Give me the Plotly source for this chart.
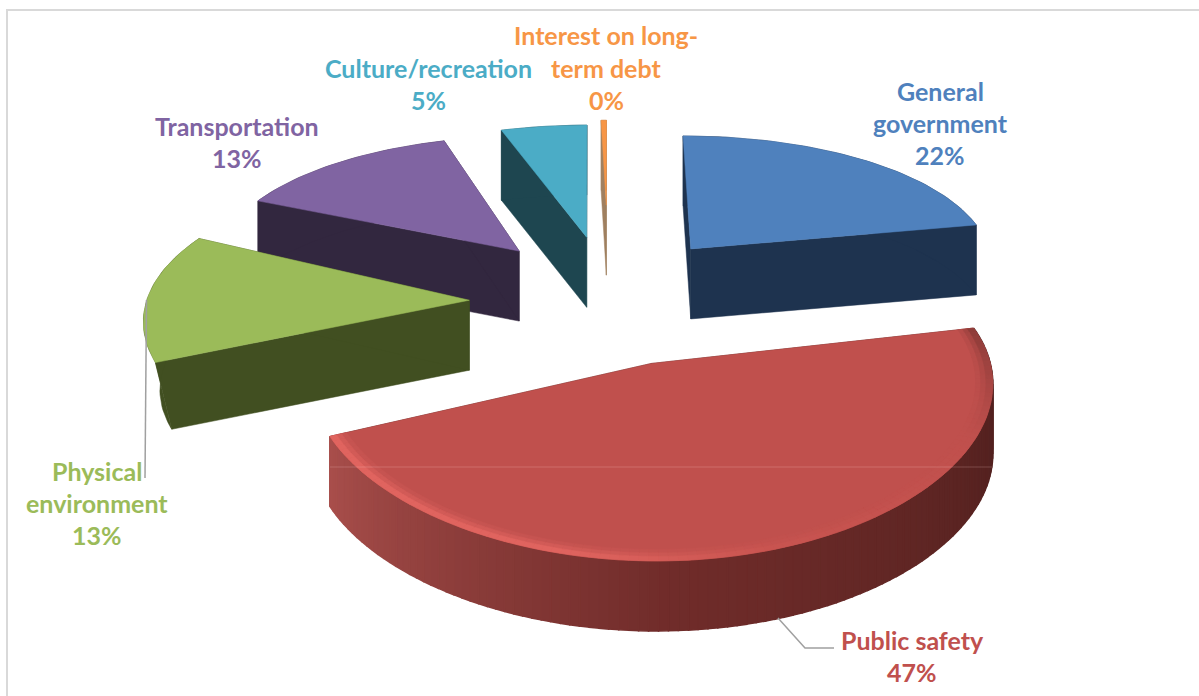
import math
import plotly.graph_objects as go

categories = ["General government", "Public safety", "Physical environment",
              "Transportation", "Culture/recreation", "Interest on long-term debt"]
values = [22, 47, 13, 13, 5, 0.4]
label_lines = [["General", "government"], ["Public safety"], ["Physical", "environment"],
               ["Transportation"], ["Culture/recreation"], ["Interest on long-", "term debt"]]
top_colors = ["#4f81bd", "#c0504d", "#9bbb59", "#8064a2", "#4bacc6", "#f79646"]
wall_colors = ["#1e334f", "#4a1e1c", "#414f21", "#32273f", "#1e4650", "#a08060"]

# geometry of the tilted, exploded pie
explode = [0.46, 0.45, 0.43, 0.42, 0.50, 0.72]
radius = [0.97, 1.02, 1.015, 0.975, 1, 0.78]
start_adjust = [0, -1.5, -1, 0, 1, 0]
end_adjust = [0, -1.5, 2.5, 2, 1, 0]
nudge_x = [-4, 3, 1, 2, 9, 4]
nudge_y = [-2, -3, 1, -6, 4, 0]
taper = [1, 1, 0.95, 1, 1, 1]
paint_order = [5, 4, 3, 0, 2, 1]
CX, CY, BX, AY, KX, KY, DEPTH = 605, 300, 318, 145, 0.10, 0.14, 70
label_pos = [(940, [91, 123], 155), (912, [640], 672), (97, [471, 503], 535),
             (237, [126], 158), (428, [68], 100), (606, [35, 68], 100)]


def project(x, y, z=0, dx=0, dy=0):
    return CX + BX * x / (1 + KX * y) + dx, CY - AY * y / (1 + KY * y) + DEPTH * z + dy


def mix(c1, c2, t):
    t = max(0.0, min(1.0, t))
    a = [int(c1[i:i + 2], 16) for i in (1, 3, 5)]
    b = [int(c2[i:i + 2], 16) for i in (1, 3, 5)]
    return "#%02x%02x%02x" % tuple(round(p + (q - p) * t) for p, q in zip(a, b))


def poly(points, color, width=0.0):
    xs = [p[0] for p in points] + [points[0][0]]
    ys = [p[1] for p in points] + [points[0][1]]
    return go.Scatter(x=xs, y=ys, mode="lines", fill="toself", fillcolor=color,
                      line=dict(color=color, width=width), hoverinfo="skip", showlegend=False)


total = sum(values)
starts, acc = [], 0.0
for v in values:
    starts.append(acc / total * 360)
    acc += v
spans = [v / total * 360 for v in values]

traces = []
for i in paint_order:
    mid = math.radians(starts[i] + spans[i] / 2)
    a0 = starts[i] + start_adjust[i]
    da = spans[i] + end_adjust[i] - start_adjust[i]
    ox, oy = explode[i] * math.sin(mid), explode[i] * math.cos(mid)
    r = radius[i]
    dx, dy = nudge_x[i], nudge_y[i]
    n = max(2, int(da / 1.5))
    angs = [math.radians(a0 + da * k / n) for k in range(n + 1)]
    rim = [(ox + r * math.sin(a), oy + r * math.cos(a)) for a in angs]
    floor = [(ox + taper[i] * r * math.sin(a), oy + taper[i] * r * math.cos(a)) for a in angs]
    apex = (ox, oy)

    # radial walls
    for end, low in ((rim[0], floor[0]), (rim[-1], floor[-1])):
        traces.append(poly([project(*apex, 0, dx, dy), project(*end, 0, dx, dy),
                            project(*low, 1, dx, dy), project(*apex, 1, dx, dy)],
                           wall_colors[i], 0.5))
    # outer wall
    if i == 1:
        for k in range(n):
            t = k / (n - 1)
            col = mix("#4a1e1c", "#702c2a", t / 0.6) if t < 0.6 else mix("#702c2a", "#a84e4b", (t - 0.6) / 0.4)
            traces.append(poly([project(*rim[k], 0, dx, dy), project(*rim[k + 1], 0, dx, dy),
                                project(*floor[k + 1], 1, dx, dy), project(*floor[k], 1, dx, dy)], col, 1.5))
    else:
        traces.append(poly([project(*p, 0, dx, dy) for p in rim] +
                           [project(*p, 1, dx, dy) for p in reversed(floor)], wall_colors[i], 0.5))
    # top face
    traces.append(poly([project(*apex, 0, dx, dy)] + [project(*p, 0, dx, dy) for p in rim], top_colors[i], 0.5))
    # soft bevel on the large slice
    if i == 1:
        bands = [(0.95, 0.965, 0.2), (0.965, 0.98, 0.55), (0.98, 1.0, 1.0)]
        for k in range(n):
            t = k / (n - 1)
            if t < 0.22:
                edge = mix("#8e3c39", "#c0504d", t / 0.22)
            elif t < 0.5:
                edge = mix("#c0504d", "#c85450", (t - 0.22) / 0.28)
            else:
                edge = mix("#c85450", "#e0645f", (t - 0.5) / 0.2)
            for inner, outer, fade in bands:
                col = mix("#c0504d", edge, fade)
                ri, ro = inner * r, outer * r
                p = [(ox + ri * math.sin(angs[k]), oy + ri * math.cos(angs[k])),
                     (ox + ro * math.sin(angs[k]), oy + ro * math.cos(angs[k])),
                     (ox + ro * math.sin(angs[k + 1]), oy + ro * math.cos(angs[k + 1])),
                     (ox + ri * math.sin(angs[k + 1]), oy + ri * math.cos(angs[k + 1]))]
                traces.append(poly([project(*q, 0, dx, dy) for q in p], col, 0.6))

fig = go.Figure(traces)

# labels
label_font = dict(family="Lato", size=25, weight="bold")
for i, (cx, ys, py) in enumerate(label_pos):
    for line, y in zip(label_lines[i], ys):
        fig.add_annotation(x=cx, y=y, text=line, showarrow=False, xref="x", yref="y",
                           xanchor="center", yanchor="middle",
                           font=dict(color=top_colors[i], **label_font))
    fig.add_annotation(x=cx, y=py, text=f"{int(values[i] + 0.5)}%" if values[i] >= 1 else "0%",
                       showarrow=False, xref="x", yref="y",
                       xanchor="center", yanchor="middle",
                       font=dict(color=top_colors[i], **label_font))

# leader lines and chart frame
grey = dict(color="#a0a0a0", width=1.5)
fig.add_shape(type="path", path="M 146.5 300 L 145 478", line=grey, layer="above")
fig.add_shape(type="path", path="M 778 618 L 805 648 L 834 648", line=grey, layer="above")
frame = dict(color="#d9d9d9", width=2)
fig.add_shape(type="path", path="M 7 696 L 7 10 L 1199 10", line=frame, layer="below")
fig.add_shape(type="line", x0=330, x1=992, y0=467, y1=467,
              line=dict(color="rgba(255,210,210,0.22)", width=1), layer="above")

fig.update_xaxes(range=[0, 1199], visible=False, fixedrange=True)
fig.update_yaxes(range=[696, 0], visible=False, fixedrange=True)
fig.update_layout(width=1199, height=696, margin=dict(l=0, r=0, t=0, b=0),
                  paper_bgcolor="white", plot_bgcolor="white", showlegend=False)
fig.write_html("out.html", config={"displayModeBar": False},
               post_script="document.body.style.margin='0';")
